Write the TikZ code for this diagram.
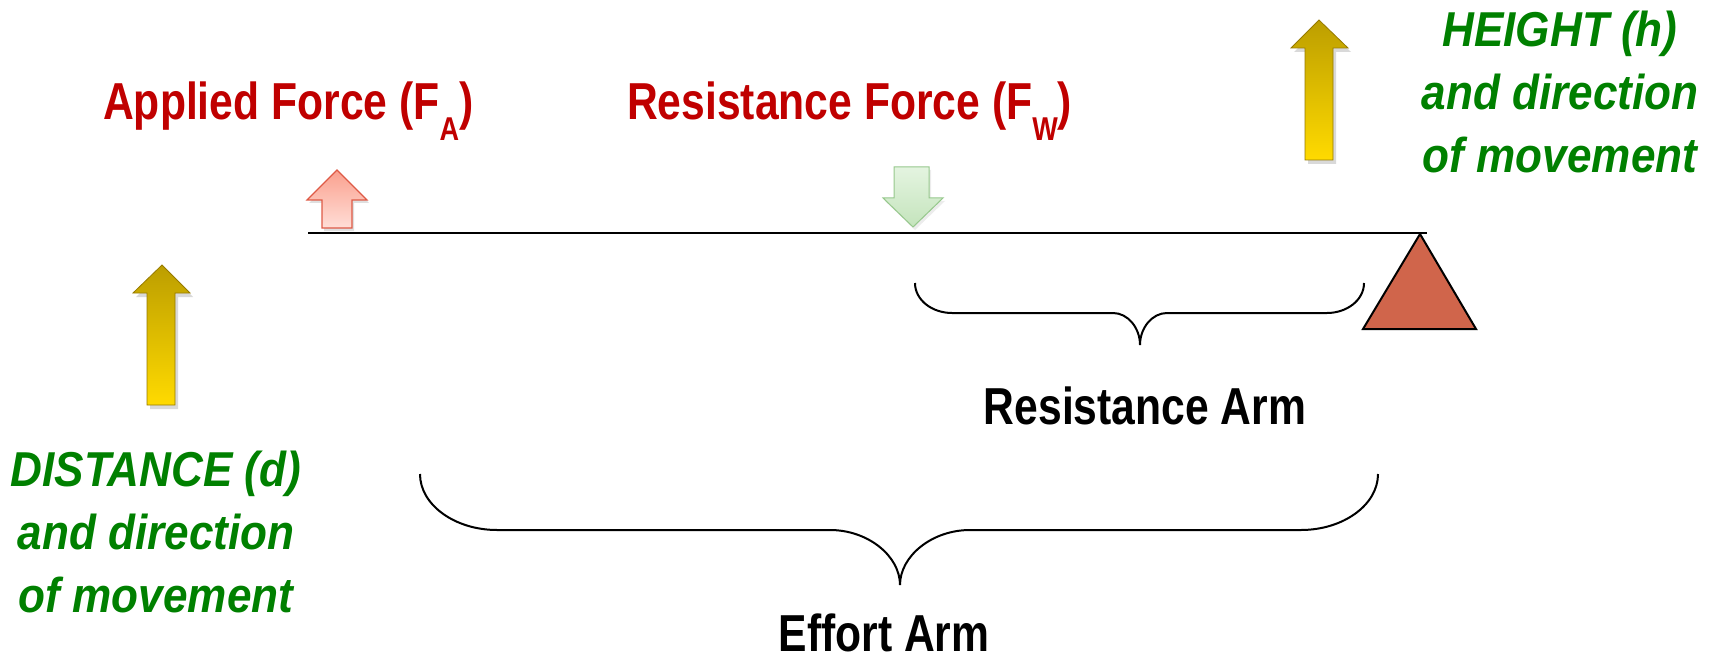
\documentclass[tikz,border=0pt]{standalone}
\usepackage{fontspec}
\setmainfont{Liberation Sans}[FakeStretch=0.82]
\newfontfamily\greenfont{Liberation Sans}[FakeStretch=0.9]
\usetikzlibrary{shadows}
\definecolor{fred}{RGB}{192,0,0}
\definecolor{fgreen}{RGB}{0,128,0}
\definecolor{tri}{RGB}{208,101,75}
\definecolor{ytop}{RGB}{188,158,0}
\definecolor{ybot}{RGB}{255,218,0}
\definecolor{yedge}{RGB}{150,122,0}
\definecolor{rtop}{RGB}{250,160,142}
\definecolor{rbot}{RGB}{255,222,215}
\definecolor{redge}{RGB}{222,90,70}
\definecolor{gtop}{RGB}{228,244,224}
\definecolor{gbot}{RGB}{196,228,188}
\definecolor{gedge}{RGB}{150,200,140}
\newcommand\lowsub[1]{\raisebox{-21pt}{\fontsize{33}{33}\selectfont #1}}
\begin{document}
\begin{tikzpicture}[x=1pt,y=-1pt,
  redlabel/.style={inner sep=0pt, text=fred, font=\fontsize{52}{60}\selectfont\bfseries},
  blacklabel/.style={inner sep=0pt, text=black, font=\fontsize{52}{60}\selectfont\bfseries},
  greenlabel/.style={inner sep=0pt, text=fgreen, align=center, font=\greenfont\fontsize{49}{63}\selectfont\bfseries\itshape},
  yellowarrow/.style={top color=ytop, bottom color=ybot, draw=yedge, line width=0.8pt,
     drop shadow={opacity=0.3, shadow xshift=3pt, shadow yshift=-4pt}},
  redarrow/.style={top color=rtop, bottom color=rbot, draw=redge, line width=1.2pt,
     drop shadow={opacity=0.25, shadow xshift=2pt, shadow yshift=-3pt}},
  greenarrow/.style={top color=gtop, bottom color=gbot, draw=gedge, line width=1pt,
     drop shadow={opacity=0.15, shadow xshift=2pt, shadow yshift=-3pt}},
  brace/.style={draw=black, line width=2pt},
  lever/.style={draw=black, line width=2pt}
]
\useasboundingbox (0,0) rectangle (1715,663);

% lever and fulcrum
\coordinate (L1) at (308,233);
\coordinate (L2) at (1427,233);
\draw[lever] (L1) -- (L2);
\draw[fill=tri, draw=black, line width=2pt, line join=miter] (1420,234) -- (1476,329) -- (1363,329) -- cycle;

% arrows
\draw[redarrow] (337,170) -- (367,200) -- (352,200) -- (352,228) -- (322,228) -- (322,200) -- (307,200) -- cycle;
\draw[greenarrow] (894,167) -- (929,167) -- (929,198) -- (943,198) -- (913,227) -- (883,198) -- (894,198) -- cycle;
\draw[yellowarrow] (1319,20) -- (1348,48) -- (1333,48) -- (1333,160) -- (1305,160) -- (1305,48) -- (1291,48) -- cycle;
\draw[yellowarrow] (162,265) -- (190,293) -- (175,293) -- (175,405) -- (147,405) -- (147,293) -- (133,293) -- cycle;

% resistance brace
\draw[brace] (915,283) .. controls (915,300) and (932,313) .. (952,313) -- (1113,313)
  .. controls (1128,313) and (1140,328) .. (1140,345)
  .. controls (1140,328) and (1152,313) .. (1167,313) -- (1327,313)
  .. controls (1347,313) and (1364,300) .. (1364,283);

% effort brace
\draw[brace] (420,474) .. controls (420,505) and (455,530) .. (497,530) -- (830,530)
  .. controls (868,530) and (900,556) .. (900,585)
  .. controls (900,556) and (932,530) .. (970,530) -- (1301,530)
  .. controls (1343,530) and (1378,505) .. (1378,474);

% labels
\node[redlabel, anchor=base west] (fa) at (103,120) {Applied Force (F\lowsub{A})};
\node[redlabel, anchor=base west] (fw) at (627,120) {Resistance Force (F\lowsub{W})};
\node[greenlabel, anchor=north] (height) at (1560,11) {HEIGHT (h)\\and direction\\of movement};
\node[greenlabel, anchor=north] (distance) at (156,451) {DISTANCE (d)\\and direction\\of movement};
\node[blacklabel, anchor=base] (rarm) at (1145,424) {Resistance Arm};
\node[blacklabel, anchor=base] (earm) at (884,651) {Effort Arm};
\end{tikzpicture}
\end{document}
